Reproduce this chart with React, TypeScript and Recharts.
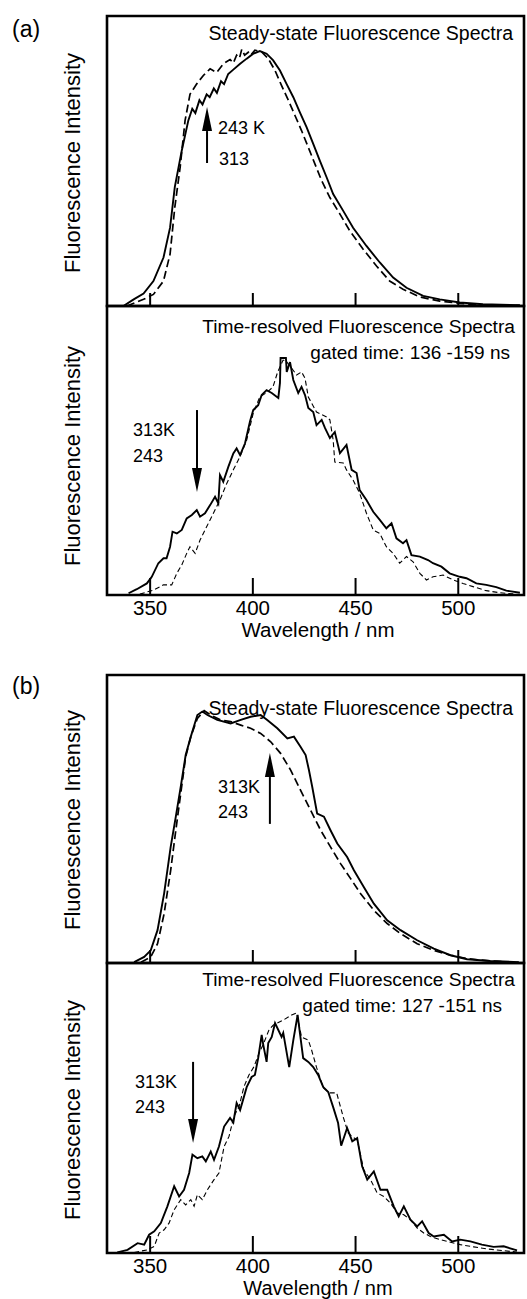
import React from 'react';
import { LineChart, Line, XAxis, YAxis, ReferenceArea, ReferenceLine } from 'recharts';

// ---------- axis ----------
const xTicks = [350, 400, 450, 500];
const xDomain: [number, number] = [329, 532];

// ---------- (a) steady-state: [wavelength nm, normalized intensity] ----------
const aSteadySolid: [number, number][] = [
  [337, 0], [342, 0.023], [346.8, 0.043], [351.6, 0.086], [356.5, 0.167], [359.7, 0.27], [362, 0.41],
  [365.4, 0.536], [368.6, 0.64], [370.5, 0.68], [372, 0.665], [374, 0.71], [375.5, 0.695], [377.5, 0.73],
  [379, 0.72], [381, 0.75], [382.5, 0.735], [384.5, 0.775], [386, 0.765], [388, 0.8], [390.5, 0.815],
  [393.8, 0.835], [397, 0.853], [400.2, 0.87], [403.4, 0.879], [406.7, 0.87], [409.9, 0.847], [413.2, 0.812],
  [416.4, 0.766], [419.7, 0.72], [422.9, 0.668], [426.2, 0.616], [429.4, 0.559], [432.6, 0.501],
  [435.9, 0.444], [439.1, 0.386], [444, 0.328], [448.8, 0.27], [455.3, 0.207], [461.8, 0.15],
  [468.3, 0.098], [474.8, 0.063], [482.9, 0.035], [491, 0.023], [500.7, 0.012], [512, 0.006], [530, 0.003],
];
const aSteadyDashed: [number, number][] = [
  [338.7, 0], [346.8, 0.023], [351.6, 0.04], [356.5, 0.086], [359.7, 0.179], [362, 0.34], [364.6, 0.478],
  [367, 0.639], [369.4, 0.73], [372.7, 0.766], [375.9, 0.795], [379.2, 0.818], [382.4, 0.805],
  [385.6, 0.835], [388.9, 0.85], [390.5, 0.838], [392.1, 0.865], [393.5, 0.855], [394.6, 0.885],
  [396, 0.865], [397.8, 0.875], [399, 0.865], [401, 0.882], [404.3, 0.876], [407.5, 0.853], [410.8, 0.812],
  [414, 0.76], [417.3, 0.709], [420.5, 0.657], [423.7, 0.605], [427, 0.547], [430.2, 0.49], [433.5, 0.432],
  [437.5, 0.374], [442.4, 0.317], [447.2, 0.259], [453.7, 0.196], [460.2, 0.138], [466.6, 0.086],
  [473.1, 0.058], [481.3, 0.031], [491, 0.017], [500.7, 0.009], [512, 0.003], [530, 0.001],
];

// ---------- (a) time-resolved ----------
const aTimeSolid: [number, number][] = [
  [339.5, 0.006], [343.5, 0.02], [348.4, 0.04], [350.8, 0.063], [354, 0.11], [356.5, 0.127], [358, 0.127],
  [359.7, 0.167], [360.9, 0.219], [363, 0.213], [365.4, 0.225], [367.8, 0.265], [370.3, 0.277],
  [372.7, 0.294], [374.3, 0.271], [376.7, 0.283], [379.2, 0.311], [381.6, 0.34], [383.2, 0.317],
  [384, 0.415], [385.6, 0.392], [388.1, 0.444], [390.5, 0.49], [392.1, 0.507], [393.8, 0.484],
  [396.2, 0.525], [398.6, 0.6], [400.2, 0.64], [402.6, 0.657], [404.3, 0.692], [406.7, 0.709],
  [409.2, 0.699], [412.4, 0.682], [413.2, 0.734], [413.5, 0.82], [416.1, 0.82], [416.5, 0.772],
  [418.1, 0.806], [419.7, 0.744], [422.1, 0.699], [423.7, 0.72], [425.4, 0.692], [427, 0.647],
  [429.4, 0.633], [431, 0.588], [433.5, 0.606], [435.1, 0.578], [437.5, 0.543], [439.9, 0.564],
  [442.4, 0.491], [445.6, 0.519], [448.1, 0.433], [450.5, 0.422], [452, 0.363], [455.3, 0.329],
  [458.6, 0.288], [461.8, 0.26], [465, 0.231], [467.5, 0.248], [469.9, 0.196], [473.1, 0.179],
  [474.8, 0.19], [477.2, 0.138], [481.3, 0.133], [485.3, 0.121], [487.7, 0.11], [491.8, 0.098],
  [495.8, 0.075], [500.7, 0.063], [504, 0.058], [508.8, 0.04], [513.6, 0.035], [518.5, 0.027],
  [523.4, 0.015], [530, 0.008],
];
const aTimeDashed: [number, number][] = [
  [345, 0.003], [351.6, 0.017], [356.5, 0.035], [360.5, 0.035], [363, 0.075], [365.4, 0.104],
  [367.8, 0.144], [369.4, 0.167], [371.9, 0.144], [374.3, 0.19], [377.5, 0.236], [380.8, 0.283],
  [384, 0.329], [387.3, 0.386], [390.5, 0.433], [393.8, 0.479], [397, 0.536], [400.2, 0.629],
  [403.4, 0.686], [406.7, 0.7], [409.8, 0.72], [412, 0.77], [414.7, 0.813], [416.1, 0.81],
  [418.9, 0.785], [421.3, 0.761], [423.7, 0.772], [425.4, 0.75], [427, 0.685], [431, 0.633],
  [435.9, 0.616], [437.5, 0.606], [439.1, 0.536], [439.9, 0.46], [444, 0.457], [445.6, 0.433],
  [448.8, 0.398], [452, 0.352], [455.3, 0.283], [458.6, 0.225], [461.8, 0.213], [465, 0.167],
  [468.3, 0.144], [471.5, 0.11], [474.8, 0.133], [478, 0.115], [481.3, 0.075], [484.5, 0.052],
  [487.7, 0.063], [492.6, 0.069], [497.5, 0.052], [502.3, 0.04], [507.2, 0.029], [513.6, 0.015],
  [520.1, 0.008], [528.2, 0.003],
];

// ---------- (b) steady-state ----------
const bSteadySolid: [number, number][] = [
  [342.2, 0.003], [347.1, 0.021], [350.3, 0.044], [353.6, 0.114], [356.8, 0.241], [360, 0.403],
  [362.5, 0.508], [364.9, 0.612], [367.3, 0.722], [369.8, 0.786], [373, 0.861], [375.4, 0.873],
  [377.9, 0.861], [382.7, 0.844], [389.2, 0.832], [394.1, 0.844], [398.9, 0.855], [403.8, 0.861],
  [407, 0.844], [411.9, 0.815], [416.8, 0.78], [420, 0.786], [423.2, 0.751], [425.7, 0.722],
  [427.3, 0.67], [428.9, 0.612], [431.3, 0.519], [434.6, 0.508], [437.8, 0.461], [441.1, 0.415],
  [445.9, 0.368], [449.2, 0.322], [454, 0.264], [458.9, 0.206], [465.4, 0.148], [471.9, 0.114],
  [480, 0.079], [488.1, 0.05], [496.2, 0.027], [504.3, 0.013], [515.6, 0.007], [529.4, 0.003],
];
const bSteadyDashed: [number, number][] = [
  [345.5, 0.003], [350.3, 0.021], [353.6, 0.067], [356.8, 0.171], [360, 0.322], [362.5, 0.461],
  [364.9, 0.589], [367.3, 0.716], [369.8, 0.786], [373, 0.849], [376.3, 0.876], [379.5, 0.861],
  [384.4, 0.844], [389.2, 0.838], [394.1, 0.826], [398.9, 0.815], [403.8, 0.797], [408.7, 0.768],
  [413.5, 0.728], [418.4, 0.67], [423.2, 0.6], [428.1, 0.531], [433, 0.461], [437.8, 0.403],
  [442.7, 0.345], [447.6, 0.293], [452.4, 0.241], [458.9, 0.183], [465.4, 0.137], [471.9, 0.102],
  [480, 0.067], [488.1, 0.044], [496.2, 0.027], [504.3, 0.015], [515.6, 0.007], [529.4, 0.002],
];

// ---------- (b) time-resolved ----------
const bTimeSolid: [number, number][] = [
  [334, 0.002], [339, 0.011], [343.9, 0.034], [347.1, 0.029], [349.5, 0.063], [352, 0.075],
  [355.2, 0.103], [358.4, 0.161], [361.7, 0.23], [364.1, 0.195], [366.5, 0.218], [369, 0.276],
  [370.6, 0.339], [373, 0.327], [375.4, 0.333], [377.1, 0.316], [379.5, 0.35], [381.1, 0.321],
  [383.5, 0.367], [386, 0.436], [388.9, 0.466], [390.5, 0.45], [392.1, 0.517], [393.8, 0.493],
  [397, 0.572], [399.4, 0.607], [401, 0.614], [402.6, 0.672], [404.3, 0.752], [405.1, 0.717],
  [406.7, 0.659], [407.5, 0.724], [409.2, 0.745], [410.8, 0.793], [412.4, 0.769], [414, 0.745],
  [414.8, 0.759], [417.7, 0.641], [419.7, 0.734], [421.8, 0.821], [422.9, 0.759], [424.5, 0.672],
  [427, 0.659], [429.4, 0.641], [431.8, 0.614], [434.3, 0.572], [436.7, 0.555], [439.1, 0.503],
  [441.5, 0.448], [443, 0.37], [445.9, 0.431], [448.4, 0.385], [450.8, 0.396], [453.2, 0.299],
  [455.7, 0.253], [458.9, 0.281], [462.1, 0.218], [465.4, 0.218], [468.6, 0.161], [471, 0.126],
  [473.5, 0.161], [476.7, 0.115], [480, 0.092], [482.4, 0.109], [485.6, 0.069], [488.1, 0.057],
  [493, 0.063], [497, 0.04], [501, 0.046], [505.9, 0.04], [511.5, 0.029], [517.2, 0.021],
  [522.1, 0.023], [528.6, 0.009],
];
const bTimeDashed: [number, number][] = [
  [342.2, 0.002], [348.7, 0.011], [352, 0.023], [354.4, 0.069], [356.8, 0.08], [359.2, 0.103],
  [361.7, 0.149], [364.9, 0.184], [367.3, 0.166], [369.8, 0.184], [371.4, 0.161], [373, 0.201],
  [375.4, 0.184], [377.9, 0.218], [381.1, 0.253], [383.5, 0.276], [386, 0.367], [388.4, 0.402],
  [390.8, 0.471], [393.3, 0.505], [395.7, 0.574], [398.1, 0.614], [400.6, 0.643], [403, 0.689],
  [405.1, 0.72], [407.9, 0.77], [410, 0.786], [414.8, 0.803], [418.9, 0.821], [421.3, 0.828],
  [423.7, 0.745], [427, 0.734], [428.6, 0.7], [431, 0.64], [434.3, 0.57], [437.5, 0.552],
  [440.8, 0.552], [444, 0.469], [446.4, 0.414], [448.5, 0.4], [450.8, 0.39], [454, 0.287],
  [457.3, 0.253], [460.5, 0.207], [463.8, 0.195], [467, 0.172], [470.2, 0.138], [473.5, 0.132],
  [476.7, 0.115], [480, 0.086], [483.2, 0.069], [486.4, 0.057], [491.3, 0.046], [496.2, 0.037],
  [501, 0.029], [507.5, 0.021], [514, 0.014], [522.1, 0.008], [528.6, 0.003],
];

// ---------- annotation arrows (data coords: [x, tail y, tip y]) ----------
const aSteadyArrow = [377.7, 0.493, 0.686];
const aTimeArrow = [372.8, 0.64, 0.356];
const bSteadyArrow = [408.3, 0.483, 0.729];
const bTimeArrow = [370.9, 0.659, 0.379];

const FONT = '"Liberation Sans", Arial, Helvetica, sans-serif';

const toPts = (arr: [number, number][]) => arr.map(([x, y]) => ({ x, y }));

function makeTick(len: number, labels: boolean) {
  return (props: any) => {
    const { x, y, payload } = props;
    return (
      <g>
        <line x1={x} x2={x} y1={y} y2={y - len} stroke="#000" strokeWidth={2} />
        {labels && (
          <text x={x} y={y + 20} textAnchor="middle" fontSize={20.5} fontFamily={FONT} fill="#000">
            {payload.value}
          </text>
        )}
      </g>
    );
  };
}

const ArrowShape = (props: any) => {
  const { x1, y1, x2, y2 } = props;
  const dir = y2 < y1 ? -1 : 1;
  const headLen = 24;
  const hw = 5;
  const baseY = y2 - dir * headLen;
  return (
    <g>
      <line x1={x1} y1={y1} x2={x2} y2={baseY} stroke="#000" strokeWidth={2} />
      <polygon points={`${x2},${y2} ${x2 - hw},${baseY} ${x2 + hw},${baseY}`} fill="#000" />
    </g>
  );
};

type PanelProps = {
  top: number;
  height: number;
  plotTop: number;
  axisH: number;
  solid: [number, number][];
  dashed: [number, number][];
  dash: string;
  dashW: number;
  tickLen: number;
  labels: boolean;
  arrow: number[];
};

function Panel(p: PanelProps) {
  return (
    <div style={{ position: 'absolute', left: 0, top: p.top }}>
      <LineChart width={527} height={p.height} margin={{ top: p.plotTop, right: 3, bottom: 0, left: 107 }}>
        <XAxis
          type="number"
          dataKey="x"
          domain={xDomain}
          ticks={xTicks}
          allowDataOverflow
          axisLine={false}
          tickLine={false}
          tickSize={0}
          tickMargin={0}
          height={p.axisH}
          interval={0}
          tick={makeTick(p.tickLen, p.labels)}
        />
        <YAxis type="number" domain={[0, 1]} hide allowDataOverflow />
        <ReferenceArea x1={xDomain[0]} x2={xDomain[1]} y1={0} y2={1} fill="none" stroke="#000" strokeWidth={2.6} ifOverflow="visible" />
        <Line
          data={toPts(p.dashed)}
          dataKey="y"
          type="linear"
          stroke="#000"
          strokeWidth={p.dashW}
          strokeDasharray={p.dash}
          dot={false}
          activeDot={false}
          isAnimationActive={false}
        />
        <Line
          data={toPts(p.solid)}
          dataKey="y"
          type="linear"
          stroke="#000"
          strokeWidth={1.9}
          dot={false}
          activeDot={false}
          isAnimationActive={false}
        />
        <ReferenceLine
          segment={[{ x: p.arrow[0], y: p.arrow[1] }, { x: p.arrow[0], y: p.arrow[2] }]}
          shape={ArrowShape}
          ifOverflow="visible"
        />
      </LineChart>
    </div>
  );
}

const T = (props: any) => <text fontFamily={FONT} fill="#000" {...props} />;

export default function App() {
  return (
    <div style={{ position: 'absolute', left: 0, top: 0, width: 527, height: 1299, background: '#fff', overflow: 'hidden' }}>
      <Panel top={0} height={320} plotTop={16} axisH={14} solid={aSteadySolid} dashed={aSteadyDashed} dash="8 4" dashW={1.7} tickLen={13} labels={false} arrow={aSteadyArrow} />
      <Panel top={300} height={340} plotTop={6} axisH={45} solid={aTimeSolid} dashed={aTimeDashed} dash="5 3" dashW={1.1} tickLen={17} labels={true} arrow={aTimeArrow} />
      <Panel top={660} height={317} plotTop={15} axisH={14} solid={bSteadySolid} dashed={bSteadyDashed} dash="8 4" dashW={1.7} tickLen={13} labels={false} arrow={bSteadyArrow} />
      <Panel top={957} height={341} plotTop={6} axisH={45} solid={bTimeSolid} dashed={bTimeDashed} dash="5 3" dashW={1.1} tickLen={17} labels={true} arrow={bTimeArrow} />
      <svg width={527} height={1299} style={{ position: 'absolute', left: 0, top: 0, pointerEvents: 'none' }}>
        <T x={12} y={37} fontSize={23}>(a)</T>
        <T x={12} y={694} fontSize={23}>(b)</T>

        <T x={80} y={163} fontSize={22} textAnchor="middle" transform="rotate(-90 80 163)">Fluorescence Intensity</T>
        <T x={80} y={456} fontSize={22} textAnchor="middle" transform="rotate(-90 80 456)">Fluorescence Intensity</T>
        <T x={80} y={820} fontSize={22} textAnchor="middle" transform="rotate(-90 80 820)">Fluorescence Intensity</T>
        <T x={80} y={1110} fontSize={22} textAnchor="middle" transform="rotate(-90 80 1110)">Fluorescence Intensity</T>

        <T x={513} y={40} fontSize={19.5} textAnchor="end">Steady-state Fluorescence Spectra</T>
        <T x={515} y={333} fontSize={19.2} textAnchor="end">Time-resolved Fluorescence Spectra</T>
        <T x={510} y={359} fontSize={19} textAnchor="end">gated time: 136 -159 ns</T>
        <T x={513} y={715} fontSize={19.5} textAnchor="end">Steady-state Fluorescence Spectra</T>
        <T x={515} y={986} fontSize={19.2} textAnchor="end">Time-resolved Fluorescence Spectra</T>
        <T x={502} y={1012} fontSize={19} textAnchor="end">gated time: 127 -151 ns</T>

        <T x={218} y={134} fontSize={18}>243 K</T>
        <T x={219} y={165} fontSize={18}>313</T>
        <T x={133} y={436} fontSize={18}>313K</T>
        <T x={133} y={462} fontSize={18}>243</T>
        <T x={218} y={793} fontSize={18}>313K</T>
        <T x={218} y={818} fontSize={18}>243</T>
        <T x={135} y={1088} fontSize={18}>313K</T>
        <T x={135} y={1113} fontSize={18}>243</T>

        <T x={318} y={637} fontSize={20.5} textAnchor="middle">Wavelength / nm</T>
        <T x={318} y={1294.5} fontSize={20} textAnchor="middle">Wavelength / nm</T>
      </svg>
    </div>
  );
}
